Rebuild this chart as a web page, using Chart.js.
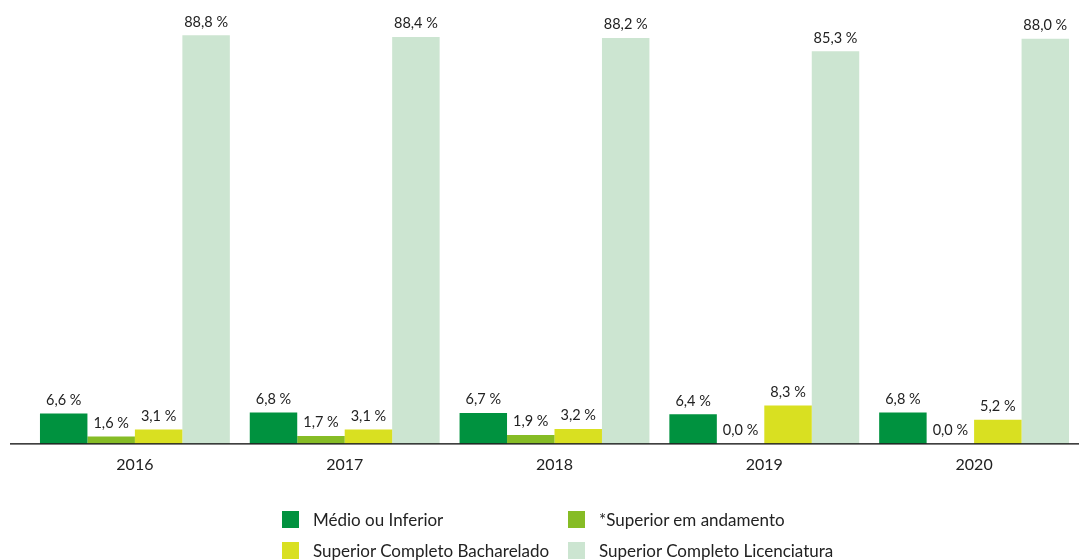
<!DOCTYPE html>
<html><head><meta charset="utf-8">
<script src="https://cdn.jsdelivr.net/npm/chart.js@4/dist/chart.umd.min.js"></script>
<style>
html,body{margin:0;padding:0;background:#fff;}
#wrap{position:relative;width:1086px;height:492px;}
#legend{position:absolute;left:0;top:0;width:1086px;height:560px;pointer-events:none;font-family:Lato,"Open Sans",sans-serif;font-size:17px;color:#222;}
.item{position:absolute;display:flex;align-items:center;height:20px;white-space:nowrap;}
.sw{width:17px;height:17px;margin-right:14px;}
</style></head>
<body>
<div id="wrap"><canvas id="c"></canvas></div>
<div id="legend"></div>
<script>
const categories = ['2016','2017','2018','2019','2020'];
const seriesNames = ['Médio ou Inferior','*Superior em andamento','Superior Completo Bacharelado','Superior Completo Licenciatura'];
const medio = [6.6, 6.8, 6.7, 6.4, 6.8];
const andamento = [1.6, 1.7, 1.9, 0.0, 0.0];
const bacharelado = [3.1, 3.1, 3.2, 8.3, 5.2];
const licenciatura = [88.8, 88.4, 88.2, 85.3, 88.0];
const colors = ['#00923F','#86BC25','#D9E021','#CCE5D1'];
const seriesData = [medio, andamento, bacharelado, licenciatura];

const FONT = 'Lato, "Open Sans", sans-serif';

const labelPlugin = {
  id:'vals',
  afterDatasetsDraw(chart){
    const ctx = chart.ctx;
    ctx.save();
    ctx.font = '14.5px ' + FONT;
    ctx.fillStyle = '#222';
    ctx.textAlign = 'center';
    ctx.textBaseline = 'bottom';
    chart.data.datasets.forEach((ds,i)=>{
      chart.getDatasetMeta(i).data.forEach((bar,j)=>{
        const v = ds.data[j];
        ctx.fillText(v.toFixed(1).replace('.',',') + ' %', bar.x, bar.y - 6);
      });
    });
    ctx.restore();
  }
};
const axisLine = {
  id:'axisLine',
  afterDraw(chart){
    const ctx = chart.ctx, y = chart.scales.y.getPixelForValue(0);
    ctx.save();
    ctx.strokeStyle = '#000'; ctx.lineWidth = 1.3;
    ctx.beginPath(); ctx.moveTo(10, y); ctx.lineTo(chart.chartArea.right, y); ctx.stroke();
    ctx.restore();
  }
};

new Chart(document.getElementById('c'), {
  type:'bar',
  data:{
    labels: categories,
    datasets: seriesNames.map((n,i)=>({label:n, data:seriesData[i], backgroundColor:colors[i], borderWidth:0}))
  },
  options:{
    responsive:true, maintainAspectRatio:false, animation:false,
    layout:{padding:{left:30,right:7,top:2,bottom:7}},
    categoryPercentage:0.905, barPercentage:1,
    plugins:{legend:{display:false}, tooltip:{enabled:false}},
    scales:{
      x:{grid:{display:false,drawTicks:false}, border:{display:false},
         ticks:{padding:11, color:'#222', font:{family:FONT,size:16}}},
      y:{display:false, min:0, max:96}
    }
  },
  plugins:[labelPlugin, axisLine]
});

const leg = document.getElementById('legend');
const pos = [[282,509],[568,509],[282,540],[568,540]];
seriesNames.forEach((n,i)=>{
  const d = document.createElement('div');
  d.className='item';
  d.style.left = pos[i][0]+'px'; d.style.top = pos[i][1]+'px';
  d.innerHTML = '<span class="sw" style="background:'+colors[i]+'"></span><span></span>';
  d.lastChild.textContent = n;
  leg.appendChild(d);
});
</script>
</body></html>
